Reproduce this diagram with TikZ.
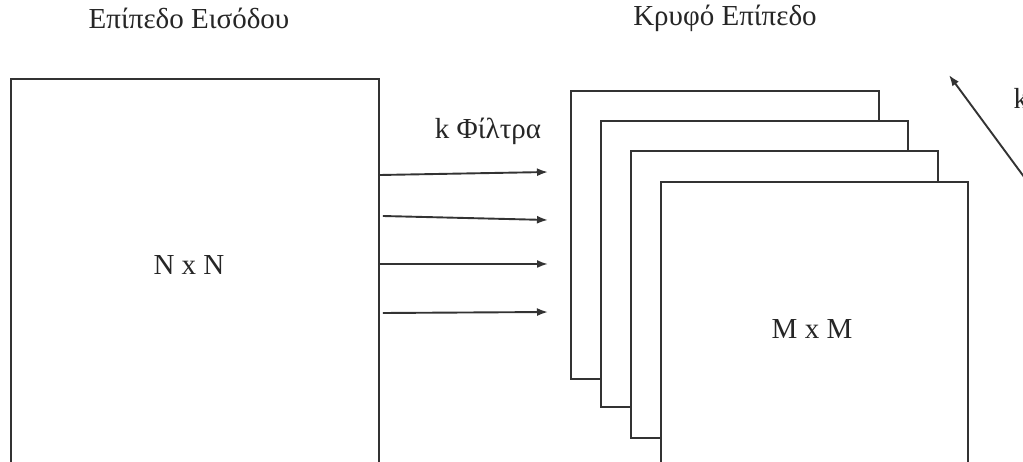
\documentclass[tikz,border=0pt]{standalone}
\usepackage{fontspec}
\setmainfont{Liberation Serif}
\usetikzlibrary{arrows.meta}
\begin{document}
\begin{tikzpicture}[x=1pt,y=-1pt,
  box/.style={draw=black!80,line width=1.9pt,fill=white,anchor=north west,inner sep=0pt},
  arr/.style={draw=black!80,line width=1.9pt,-{Latex[length=11pt,width=8pt]}},
  lbl/.style={font=\fontsize{29}{33}\selectfont,text=black!85}]
\useasboundingbox (0,0) rectangle (1023,462);
\clip (0,0) rectangle (1023,462);
\fill[white] (0,0) rectangle (1023,462);
% input layer
\node[box,minimum width=368pt,minimum height=420pt] (in) at (10,78) {};
\node[lbl] (tin) at (189,18) {Επίπεδο Εισόδου};
\node[lbl] (nn) at (189,265) {N x N};
% hidden layer maps
\node[box,minimum width=308pt,minimum height=288pt] (h1) at (570,90) {};
\node[box,minimum width=307pt,minimum height=286pt] (h2) at (600,120) {};
\node[box,minimum width=307pt,minimum height=287pt] (h3) at (630,150) {};
\node[box,minimum width=307pt,minimum height=320pt] (h4) at (660,181) {};
\node[lbl] (thid) at (725,18) {Κρυφό Επίπεδο};
\node[lbl] (mm) at (812,329) {M x M};
\node[lbl] (filt) at (488,131) {k Φίλτρα};
% filter arrows
\coordinate (e1) at (548,172);
\coordinate (e2) at (548,220);
\coordinate (e3) at (548,264);
\coordinate (e4) at (548,312);
\draw[arr] (in.east |- 0,175) -- (e1);
\draw[arr] ([xshift=3pt]in.east |- 0,216) -- (e2);
\draw[arr] (in.east |- 0,264) -- (e3);
\draw[arr] ([xshift=3pt]in.east |- 0,313) -- (e4);
% right diagonal arrow (cut off)
\coordinate (d0) at (1030,185);
\coordinate (d1) at (949,75);
\draw[arr] (d0) -- (d1);
\node[lbl,anchor=west] (kk) at (1010,98) {k};
\end{tikzpicture}
\end{document}
